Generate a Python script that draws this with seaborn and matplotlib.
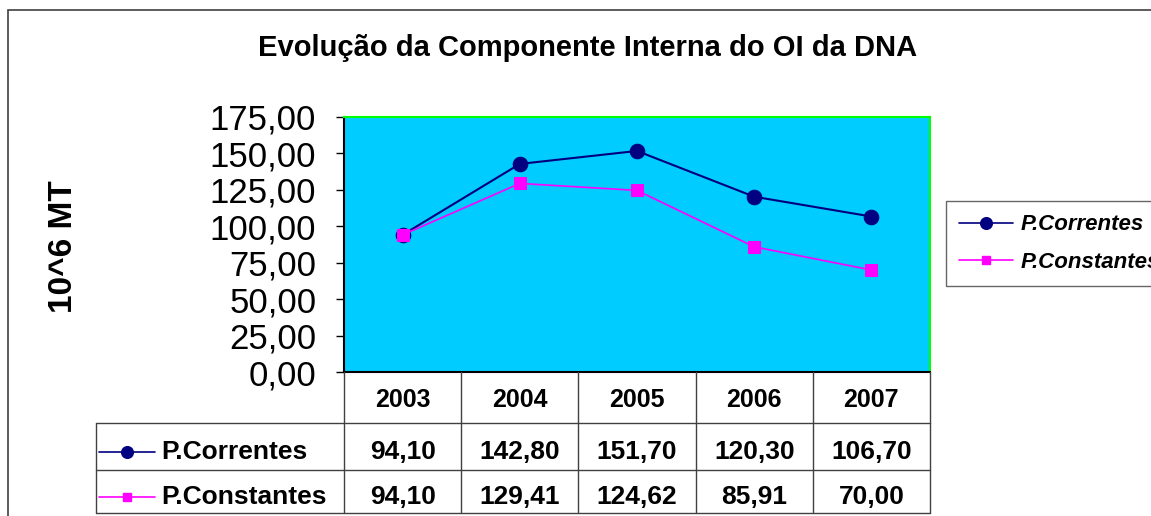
import pandas as pd
import matplotlib
matplotlib.use("Agg")
import matplotlib.pyplot as plt
import matplotlib.transforms as mtransforms
from matplotlib.lines import Line2D
from matplotlib.patches import Rectangle
from matplotlib.ticker import FuncFormatter, MultipleLocator
import seaborn as sns

# Dados do gráfico
anos = [2003, 2004, 2005, 2006, 2007]
p_correntes = [94.10, 142.80, 151.70, 120.30, 106.70]
p_constantes = [94.10, 129.41, 124.62, 85.91, 70.00]
series_nomes = ["P.Correntes", "P.Constantes"]
titulo = "Evolução da Componente Interna do OI da DNA"
y_label = "10^6 MT"

valores = {"P.Correntes": p_correntes, "P.Constantes": p_constantes}
estilos = {
    "P.Correntes": dict(color="#000080", marker="o", markersize=10.5, linewidth=1.5),
    "P.Constantes": dict(color="#FF00FF", marker="s", markersize=8, linewidth=1.2),
}

W, H = 1151, 516


def fx(px):
    return px / W


def fy(py):
    return 1 - py / H


def fmt_pt(v):
    return f"{v:.2f}".replace(".", ",")


sns.set_style("white")
plt.rcParams["font.family"] = ["Liberation Sans", "DejaVu Sans"]
plt.rcParams["text.color"] = "black"
plt.rcParams["ytick.labelcolor"] = "black"

fig = plt.figure(figsize=(W / 100, H / 100), dpi=100)
ax = fig.add_axes([fx(344), fy(372), fx(930) - fx(344), fy(117) - fy(372)])
ax.set_facecolor("#00CCFF")

# Linhas
for nome in series_nomes:
    df = pd.DataFrame({"Ano": anos, "Valor": valores[nome]})
    st = estilos[nome]
    sns.lineplot(data=df, x="Ano", y="Valor", ax=ax, color=st["color"],
                 marker=st["marker"], markersize=st["markersize"],
                 linewidth=st["linewidth"], markeredgecolor=st["color"])

ax.set_xlim(anos[0] - 0.5, anos[-1] + 0.5)
ax.set_ylim(0, 175)
ax.yaxis.set_major_locator(MultipleLocator(25))
ax.yaxis.set_major_formatter(FuncFormatter(lambda v, p: fmt_pt(v)))
ax.set_xticks([])
ax.set_xlabel("")
ax.set_ylabel("")
ax.tick_params(axis="y", left=True, length=6, width=1, pad=14, labelsize=25,
               direction="out", color="black", labelcolor="black")

for s in ["left", "bottom"]:
    ax.spines[s].set_color("black")
    ax.spines[s].set_linewidth(1.5)
for s in ["top", "right"]:
    ax.spines[s].set_color("#00FF00")
    ax.spines[s].set_linewidth(1.5)

# Título e eixo
fig.text(fx(588), fy(48), titulo, ha="center", va="center", fontsize=21, fontweight="bold")
fig.text(fx(63), fy(247), y_label, ha="center", va="center", rotation=90,
         fontsize=24, fontweight="bold")

# Legenda
handles = [Line2D([], [], color=estilos[n]["color"], marker=estilos[n]["marker"],
                  markersize=estilos[n]["markersize"] * 0.8, linewidth=1.2)
           for n in series_nomes]
leg = fig.legend(handles, series_nomes, loc="upper left",
                 bbox_to_anchor=(fx(946), fy(201)), frameon=True, fancybox=False,
                 edgecolor="#404040", prop=dict(size=16, weight="bold", style="italic"),
                 handlelength=2.4, handletextpad=0.35, labelspacing=0.75,
                 borderpad=0.6, borderaxespad=0)
leg.get_frame().set_linewidth(1.0)

# Tabela de dados
trans = mtransforms.blended_transform_factory(ax.transData, fig.transFigure)
linha_cor = "#404040"
x0 = anos[0] - 0.5
for i in range(len(anos) + 1):
    fig.add_artist(Line2D([x0 + i, x0 + i], [fy(372), fy(513)], transform=trans,
                          color=linha_cor, lw=1.0))
for yy in [423, 470, 513]:
    fig.add_artist(Line2D([fx(96), fx(930)], [fy(yy), fy(yy)], transform=fig.transFigure,
                          color=linha_cor, lw=1.0))
fig.add_artist(Line2D([fx(96), fx(96)], [fy(423), fy(513)], transform=fig.transFigure,
                      color=linha_cor, lw=1.0))

for ano in anos:
    fig.text(ano, fy(400), str(ano), transform=trans, ha="center", va="center",
             fontsize=18, fontweight="bold")

linhas_y = {"P.Correntes": 452, "P.Constantes": 497}
for nome in series_nomes:
    yy = fy(linhas_y[nome])
    st = estilos[nome]
    fig.add_artist(Line2D([fx(99), fx(155)], [yy, yy], transform=fig.transFigure,
                          color=st["color"], lw=1.2))
    fig.add_artist(Line2D([fx(127)], [yy], transform=fig.transFigure,
                          color=st["color"], marker=st["marker"],
                          markersize=st["markersize"] * 0.8))
    fig.text(fx(161), yy, nome, ha="left", va="center", fontsize=19, fontweight="bold")
    for ano, v in zip(anos, valores[nome]):
        fig.text(ano, yy, fmt_pt(v), transform=trans, ha="center", va="center",
                 fontsize=19, fontweight="bold")

# Moldura exterior
fig.add_artist(Rectangle((fx(8), fy(600)), 1.0, fy(10) - fy(600),
                         transform=fig.transFigure, fill=False,
                         edgecolor="#404040", lw=1.2))

fig.savefig("out.png", dpi=100)
